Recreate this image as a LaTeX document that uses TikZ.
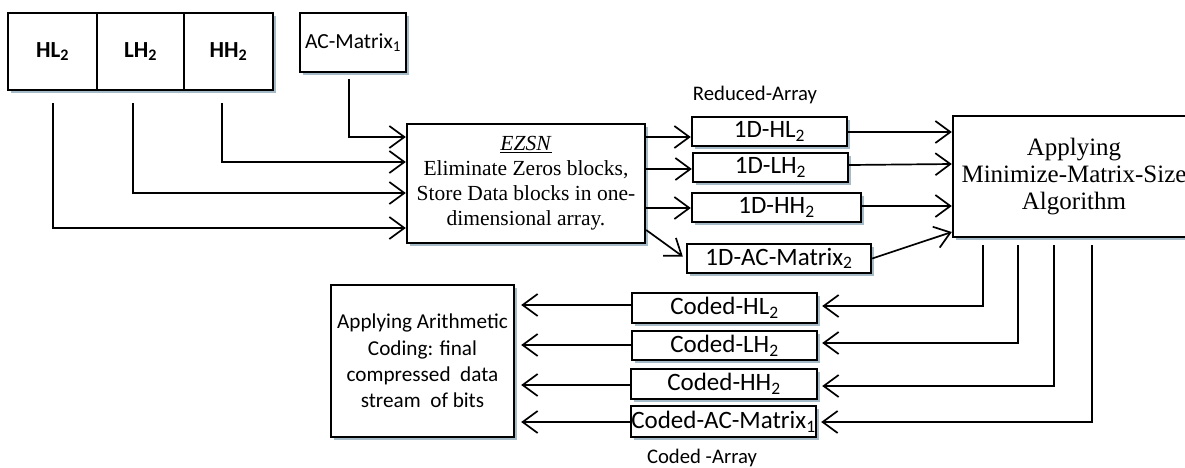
\documentclass[tikz,border=0pt]{standalone}
\usepackage{fontspec}
\setmainfont{Liberation Serif}
\newfontfamily\calfont{Carlito}
\usetikzlibrary{arrows.meta,calc,shadows}
\definecolor{shc}{RGB}{165,188,200}
\begin{document}
\begin{tikzpicture}[x=1pt,y=-1pt,
  box/.style={draw, line width=2.4pt, rectangle, inner sep=0pt, fill=white,
    drop shadow={shadow xshift=3pt, shadow yshift=-3pt, fill=shc, opacity=1}},
  arr/.style={line width=1.7pt, -{Straight Barb[length=15pt,width=22pt,line width=1.7pt]}},
  topfont/.style={font=\calfont\bfseries\fontsize{23}{26}\selectfont},
  boxfont/.style={font=\calfont\fontsize{25}{28}\selectfont},
  lblfont/.style={font=\calfont\fontsize{20.7}{24}\selectfont}]
\clip (0,0) rectangle (1185,467);
\fill[white] (0,0) rectangle (1185,467);
% top inputs
\node[box, topfont, minimum width=89pt, minimum height=77pt] (HL) at (52.5,51.5) {HL\textsubscript{2}};
\node[box, topfont, minimum width=87pt, minimum height=77pt] (LH) at (140.5,51.5) {LH\textsubscript{2}};
\node[box, topfont, minimum width=89pt, minimum height=77pt] (HH) at (228.5,51.5) {HH\textsubscript{2}};
\node[box, font=\calfont\fontsize{21.5}{24}\selectfont, minimum width=106pt, minimum height=59pt] (AC) at (353,42.5) {AC-Matrix\textsubscript{1}};
% EZSN
\node[box, align=center, font=\fontsize{21.5}{25}\selectfont, minimum width=238pt, minimum height=119pt] (EZ) at (526,183.5)
  {\underline{\textit{EZSN}}\\Eliminate Zeros blocks,\\Store Data blocks in one-\\dimensional array.};
% reduced arrays
\node[lblfont] (lblR) at (755,95) {Reduced-Array};
\node[box, boxfont, minimum width=155pt, minimum height=29pt] (R1) at (769.5,131.5) {1D-HL\textsubscript{2}};
\node[box, boxfont, minimum width=155pt, minimum height=29pt] (R2) at (770.5,167.5) {1D-LH\textsubscript{2}};
\node[box, boxfont, minimum width=169pt, minimum height=29pt] (R3) at (776.5,207.5) {1D-HH\textsubscript{2}};
\node[box, boxfont, minimum width=184pt, minimum height=29pt] (R4) at (779,258.5) {1D-AC-Matrix\textsubscript{2}};
% MMS
\node[box, align=center, font=\fontsize{25}{27}\selectfont, minimum width=242pt, minimum height=121pt] (MMS) at (1074,176.5)
  {Applying\\Minimize-Matrix-Size\\Algorithm};
% coded arrays
\node[box, boxfont, minimum width=185pt, minimum height=30pt] (C1) at (724.5,308) {Coded-HL\textsubscript{2}};
\node[box, boxfont, minimum width=185pt, minimum height=29pt] (C2) at (724.5,345.5) {Coded-LH\textsubscript{2}};
\node[box, boxfont, minimum width=186pt, minimum height=30pt] (C3) at (724,384) {Coded-HH\textsubscript{2}};
\node[box, boxfont, minimum width=185pt, minimum height=31pt] (C4) at (723.5,421.5) {Coded-AC-Matrix\textsubscript{1}};
\node[lblfont] (lblC) at (702,458) {Coded -Array};
% arithmetic
\node[box, align=center, font=\calfont\fontsize{21.2}{26.3}\selectfont, minimum width=183pt, minimum height=152pt] (AR) at (422.5,361)
  {Applying Arithmetic\\Coding: final\\compressed~ data\\stream~ of bits};
% inputs to EZSN
\draw[arr] ($(HL.south)+(0.5,12)$) |- ($(EZ.west)+(0,44.5)$);
\draw[arr] ($(LH.south)+(-7.5,12)$) |- ($(EZ.west)+(0,9.5)$);
\draw[arr] ($(HH.south)+(-6.5,12)$) |- ($(EZ.west)+(0,-21.5)$);
\draw[arr] ($(AC.south)+(-4,6)$) |- ($(EZ.west)+(0,-46.5)$);
% EZSN to reduced arrays
\draw[arr] ($(EZ.east)+(0,-46.5)$) -- ($(R1.west)+(0,5.5)$);
\draw[arr] ($(EZ.east)+(0,-14.5)$) -- ($(R2.west)+(0,1.5)$);
\draw[arr] ($(EZ.east)+(0,24.5)$) -- ($(R3.west)+(0,0.5)$);
\draw[arr] ($(EZ.east)+(0,46.5)$) -- ($(R4.west)+(-3,-2)$);
% reduced arrays to MMS
\draw[arr] ($(R1.east)+(0,0.5)$) -- ($(MMS.west)+(0,-44.5)$);
\draw[arr] ($(R2.east)+(0,-2.5)$) -- ($(MMS.west)+(0,-12.5)$);
\draw[arr] ($(R3.east)+(0,-1.5)$) -- ($(MMS.west)+(0,29.5)$);
\draw[arr] (R4.east) -- ($(MMS.west)+(0,55.5)$);
% MMS to coded arrays
\draw[arr] ($(MMS.south west)+(31,7)$) |- ($(C1.east)+(4,-2)$);
\draw[arr] ($(MMS.south west)+(66,7)$) |- ($(C2.east)+(4,-2.5)$);
\draw[arr] ($(MMS.south west)+(102,7)$) |- ($(C3.east)+(4,2)$);
\draw[arr] ($(MMS.south west)+(140,7)$) |- ($(C4.east)+(4,0.5)$);
% coded arrays to arithmetic
\draw[arr] ($(C1.west)+(0,-3)$) -- ($(AR.east |- C1.west)+(6,-3)$);
\draw[arr] ($(C2.west)+(0,-0.5)$) -- ($(AR.east |- C2.west)+(6,-0.5)$);
\draw[arr] ($(C3.west)+(0,1)$) -- ($(AR.east |- C3.west)+(6,1)$);
\draw[arr] ($(C4.west)+(0,0.5)$) -- ($(AR.east |- C4.west)+(6,0.5)$);
\end{tikzpicture}
\end{document}
